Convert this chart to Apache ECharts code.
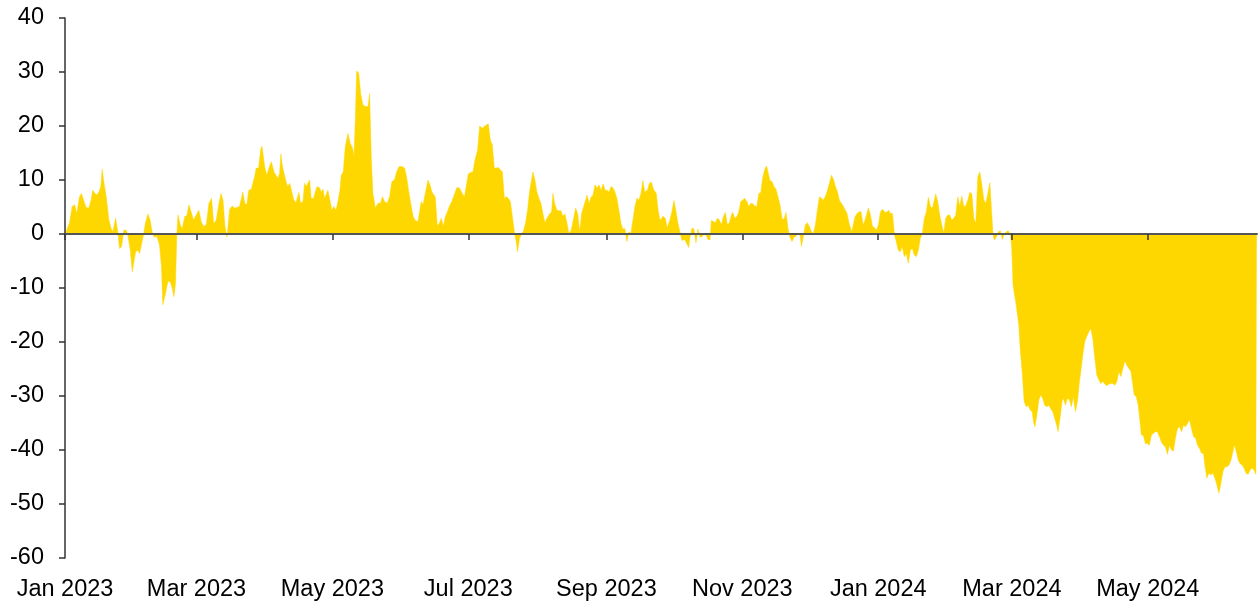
<!DOCTYPE html>
<html>
<head>
<meta charset="utf-8">
<script src="https://cdn.jsdelivr.net/npm/echarts@6/dist/echarts.min.js"></script>
<style>html,body{margin:0;padding:0;background:#fff}#c{width:1259px;height:602px}</style>
</head>
<body>
<div id="c"></div>
<script>
// x values: days since 2023-01-01
const baseDate = '2023-01-01';
const days = [
0, 2.0, 3.2, 4.3, 5.3, 6.5, 7.4, 8.3, 9.5, 10.7,
11.7, 12.5, 13.4, 14.3, 15.2, 16.1, 16.7, 17.3, 18.5, 19.7,
20.7, 21.5, 22.7, 23.6, 24.5, 25.4, 26.4, 27.5, 28.2, 29.3,
30.2, 30.8, 31.7, 32.7, 33.5, 34.3, 35.2, 36.1, 37.2, 38.2,
39.1, 40.0, 41.2, 42.4, 43.3, 43.9, 45.1, 46.2, 47.2, 48.1,
48.9, 49.6, 50.2, 50.7, 51.7, 52.6, 53.8, 54.7, 55.6, 56.6,
57.7, 58.9, 60.1, 61.1, 62.2, 63.4, 64.6, 65.8, 66.7, 67.9,
69.1, 70.0, 70.9, 71.8, 72.7, 73.9, 75.1, 76.1, 77.1, 78.3,
79.2, 79.8, 80.7, 81.6, 82.5, 83.6, 84.3,
85.1, 85.8, 86.9, 87.8, 88.4, 89.0, 89.6, 90.5, 91.1, 91.8,
92.6, 93.2, 93.8, 94.7, 95.6, 96.3, 96.9, 97.6, 98.5, 99.4,
100.0, 100.9, 101.8, 102.7, 103.6, 104.2, 105.0, 105.7, 106.8, 107.5,
108.3, 109.0, 109.8, 110.5, 111.6, 112.3, 113.2, 114.3, 115.0, 115.8,
116.5, 117.3, 118.0, 118.9, 119.8, 120.7, 121.6, 122.5, 123.4, 124.0,
124.9, 125.8, 127.0, 128.0, 129.1, 129.7, 130.3, 130.9, 131.8, 132.7,
133.7, 134.8, 136.0, 136.7, 137.5, 138.2, 139.3, 140.5, 141.6, 142.5,
143.4, 144.6, 145.7, 146.7, 147.9, 148.8, 150.0, 151.2, 152.4, 153.3,
154.2, 155.4, 156.3, 157.2, 158.4, 159.0, 159.9, 160.7, 161.7, 162.9,
163.8, 164.7, 165.6, 166.2, 167.1, 168.0, 168.9, 169.8, 170.7, 171.6,
172.5,
173.8, 174.9, 175.9, 177.1, 178.3, 179.3, 180.1, 181.0, 181.9, 183.1,
184.0, 185.2, 186.1, 187.3, 188.2, 189.1, 190.0, 190.9, 191.8, 192.7,
193.6, 194.5, 195.4, 196.3, 197.2, 198.1, 199.0, 199.9, 200.8, 201.8,
202.5, 203.1, 204.0, 204.9, 205.8, 206.7, 207.6, 208.5, 209.4, 210.0,
210.9, 211.8, 212.7, 213.6, 214.5, 215.4, 216.3, 217.5, 218.4, 219.0,
219.9, 220.8, 221.7, 222.6, 223.5, 224.4, 225.3, 226.2, 227.2, 228.3,
229.2, 230.1, 231.0, 231.9, 232.8, 233.7, 234.3, 235.2, 236.1, 237.0,
237.9, 238.8, 239.7, 240.6, 241.5, 242.4, 243.3, 244.2, 245.1, 246.0,
246.8, 247.7, 248.6, 249.5, 250.4, 251.3, 252.2, 253.1, 254.0, 254.9,
255.8, 256.7, 257.6, 258.5, 259.4,
260.2, 261.4, 262.3, 263.2, 264.1, 265.4, 266.2, 267.1, 268.4, 269.4,
270.3, 271.4, 272.4, 273.3, 274.4, 275.1, 276.0, 276.9, 278.1, 279.0,
279.9, 280.5, 281.4, 282.3, 283.2, 284.1, 285.0, 285.9, 286.8, 287.7,
288.6, 289.5, 290.1, 291.0, 291.9, 292.8, 293.7, 294.6, 295.5, 296.4,
297.3, 298.2, 299.1, 299.7, 300.6, 301.5, 302.4, 303.3, 304.2, 305.1,
306.0, 306.9, 307.8, 308.7, 309.6, 310.5, 311.4, 312.3, 313.1, 314.0,
314.9, 315.5, 316.4, 317.3, 318.2, 319.1, 320.0, 320.9, 321.8, 322.7,
323.6, 324.5, 325.4, 326.3, 327.2, 328.1, 329.0, 329.9, 330.5, 331.4,
332.3, 333.2, 334.1, 335.0, 335.9, 336.8, 337.7, 338.6, 339.5, 340.4,
341.3, 342.2, 343.1, 344.0, 344.9, 345.8, 346.7, 347.6,
348.9, 350.0, 351.0, 351.9, 353.1, 353.7, 354.6, 355.5, 356.4, 357.3,
358.2, 359.1, 359.7, 360.6, 361.5, 362.4, 363.3, 364.2, 365.1, 366.0,
366.9, 367.8, 368.7, 369.6, 370.5, 371.4, 372.3, 373.1, 374.0, 374.9,
375.8, 376.7, 377.6, 378.5, 379.4, 380.3, 381.2, 382.1, 383.0, 383.9,
384.8, 385.7, 386.6, 387.5, 388.4, 389.3, 390.2, 390.8, 391.7, 392.6,
393.5, 394.4, 395.3, 396.2, 397.1, 398.0, 398.9, 399.8, 400.7, 401.6,
402.5, 403.4, 404.3, 405.2, 406.1, 407.0, 407.9, 408.8, 409.7, 410.6,
411.5, 412.4, 413.3, 414.2, 415.1, 415.8, 416.5, 417.1, 418.0, 418.9,
419.8, 420.7, 421.6, 422.5, 423.4, 424.3, 424.9,
425.5, 426.3, 426.9, 427.5, 428.1, 428.7, 429.6, 430.5, 431.4, 432.3,
433.2, 434.1, 434.7, 435.3, 436.2, 437.1, 437.9, 438.8, 439.7, 440.6,
441.5, 442.4, 443.3, 444.2, 445.1, 445.7, 446.6, 447.5, 448.1, 449.0,
449.9, 450.8, 451.7, 452.6, 453.5, 454.4, 455.3, 455.9, 456.8, 457.7,
458.6, 459.5, 460.4, 461.3, 462.2, 463.1, 464.0, 464.9, 465.8, 466.7,
467.6, 468.5, 469.4, 470.3, 471.2, 472.1, 473.0, 473.9, 474.8, 475.7,
476.6, 477.5, 478.4, 479.3, 479.9, 480.8, 481.7, 482.5, 483.1, 484.0,
484.9, 485.8, 486.7, 487.6, 488.5, 489.4, 490.3, 491.2, 492.1, 493.0,
493.9, 494.8, 495.7, 496.6, 497.5, 498.4, 499.3, 500.2, 501.1, 502.0,
502.9, 503.8, 504.7, 505.6, 506.5, 507.4, 508.3, 509.2, 510.1, 511.0,
511.6, 512.5, 513.4, 514.3, 515.2, 516.1, 517.0, 517.9, 518.8, 519.7,
520.6, 521.5, 522.4, 523.3, 524.2, 524.8, 525.7, 526.6, 527.4, 528.3,
529.2, 530.1, 531.0, 531.9, 532.8, 533.7, 534.6, 534.9
];
const values = [
0, 2, 5.1, 5.4, 3.8, 6.9, 7.5, 6.3, 4.9, 4.8,
6.3, 8.1, 7.5, 7.2, 7.8, 8.8, 12.0, 10, 6.9, 2.6,
1, 0.4, 2.9, 0.7, -2.7, -2.3, 0.7, 0.7, -0.2, -3,
-7, -6.7, -3.3, -3, -3.6, -2, -0.2, 2, 3.7, 2.6,
0.4, -0.6, -0.4, -2, -6, -13.1, -11, -8.8, -8.8, -10,
-11.6, -9.1, 0, 3.5, 1.7, 1, 3.3, 3.4, 5.4, 4.1,
2.6, 3.5, 4.4, 2.3, 1.4, 1.7, 5.7, 6.6, 1.9, 2.6,
5.7, 7.5, 6.3, 1.4, -0.6, 4.6, 5.2, 4.8, 4.9, 5.1,
6.6, 7.8, 5.7, 5.4, 8.1, 8.3, 9.4,
10.6, 12.2, 12.2, 15.6, 16.3, 16.2, 12.5, 10.9, 10.6, 12.5,
13.4, 13.7, 11.5, 10.9, 10.3, 11.2, 14.8, 12.5, 10.9, 9.4,
8.8, 9.4, 7.8, 6.3, 5.8, 5.8, 7.7, 5.7, 6, 9.4,
8.8, 9.4, 10, 6.6, 6.6, 7.8, 8.8, 8.5, 7.8, 8.3,
6.6, 6.3, 8.1, 6.3, 4.4, 5.1, 4.4, 6, 8.1, 10.9,
11.5, 16.2, 18.6, 16.8, 15.9, 14.3, 21.1, 30.2, 29.8, 26,
23.9, 23.6, 23.6, 26, 13.7, 7.5, 4.8, 5.7, 5.7, 6.9,
6, 5.7, 6.9, 9.7, 10, 11.5, 12.5, 12.5, 12.2, 10.6,
8.1, 5.1, 3.2, 2.5, 2.3, 2.3, 6, 5.4, 7.5, 10,
9.1, 7.8, 7.2, 6.8, 1.5, 2, 2.9, 1.4, 3.2, 4.1,
5.1,
6.2, 7.5, 8.6, 8.5, 7.5, 6.9, 6.6, 11.1, 11.4, 11.5,
13.7, 15.6, 20, 19.6, 19.9, 20.2, 20.4, 17.4, 16.5, 12.2,
12.2, 12.3, 11.9, 11.5, 6.6, 6.9, 6.6, 6, 3.2, 0.1,
-1.4, -3.3, -0.8, 0, 0.6, 2, 4.4, 7.8, 10, 11.5,
10, 7.8, 6.6, 5.7, 3.8, 2.1, 2.9, 3.7, 4.1, 7.5,
5.4, 4.4, 4.3, 4.3, 3.3, 3.7, 2, 0.1, 0.7, 2.9,
4.8, 3.8, 0.4, 3.8, 5.1, 6.3, 7.2, 5.7, 6.8, 7.2,
9.1, 8.5, 9.1, 8, 9.3, 8.1, 8.1, 7.8, 8.8, 8.5,
7.8, 6.6, 4.4, 2, 0.9, 1, -1.4, 0.4, 0.1, 2.6,
5.1, 6.6, 6.3, 7.5, 9.9,
7.8, 8.1, 9.4, 9.6, 8.3, 7.5, 4.4, 2.5, 3.3, 2.9,
1.1, 2.5, 4.1, 6.2, 3.8, 2, 0.4, -1.2, -1, -1.7,
-2.5, -0.6, 1.1, 0.9, -1.6, 0.9, -0.6, -0.5, 0, -0.2,
-1, -1.1, 2.5, 2.3, 2.1, 2.9, 2.6, 1.7, 3.2, 4,
1.7, 2.1, 3.5, 4, 2.9, 3.2, 4.1, 6, 6.3, 6.6,
6, 5.1, 5.7, 5.6, 5.2, 5.1, 7.5, 7.7, 10.3, 11.9,
12.6, 12.8, 9.9, 9.7, 8.8, 8.3, 6.9, 5.4, 2.9, 2.7,
4, 1, -0.6, -1.4, -0.6, -0.4, 0.1, 0, -2.3, -0.4,
1.7, 2.1, 1.4, 0.4, 0.1, 1.7, 4.4, 6.9, 6.6, 6.3,
7, 8.1, 9.4, 10.9, 10.1, 8.8, 7.8, 6.2,
5.4, 4.6, 3.8, 2, 0.4, 0.7, 3.2, 3.8, 4.1, 4.1,
1.7, 2.6, 3.5, 4.8, 3.5, 1.4, 1.2, 0.7, 1.7, 4.1,
4.6, 4.1, 4, 4.4, 3.8, 3.8, -0.2, -1.4, -3, -3.3,
-2.3, -4.2, -3.6, -5.4, -3, -2.7, -3.9, -4.2, -3, -0.8,
0.1, 2.9, 4.1, 6.8, 5.1, 4.8, 6.3, 7.4, 6, 3.5,
1.7, 0.2, 2.9, 3.5, 3.5, 2.6, 2.9, 3.5, 6.9, 5.1,
7, 5.1, 5.2, 6.3, 7.7, 7.5, 2.9, 2, 10.6, 11.5,
9.1, 6.3, 5.7, 7.5, 9.5, 9.5, 0, -1.1, -0.6, 0.4,
0.6, -1, 0, 0.4, 0.6, -0.2, -2.3,
-9.4, -11.6, -13.1, -13, -16.9, -21.2, -25.5, -31, -32, -31.7,
-32.6, -32.9, -34.8, -35.7, -33.5, -30.7, -29.8, -30.4, -31.7, -32,
-31.7, -32.3, -32.9, -34.1, -35.4, -36.6, -34.1, -31, -30.4, -31.7,
-30.4, -30.7, -32, -30.1, -32.9, -31, -27.3, -25.5, -22.4, -19.9,
-19, -18.1, -17.5, -19.3, -23, -26.1, -27, -27.7, -27.3, -27.8,
-28.1, -27.8, -27.7, -27.7, -28, -27.3, -25.5, -26.4, -24.9, -23.5,
-24.3, -24.9, -25.4, -28, -29.8, -30.1, -31.7, -34.8, -37.2, -37.3,
-38.8, -38.8, -39.1, -37.2, -36.9, -36.6, -36.6, -37.5, -38.5, -39.1,
-39.4, -40.8, -39.1, -40, -40.2, -37.8, -36, -35.7, -36.6, -35.4,
-35.7, -35.1, -34.4, -36, -37.5, -37.8, -39.1, -39.7, -40.6, -40.6,
-42.8, -45.2, -44.3, -44.6, -44.3, -45.2, -46.5, -48, -46.2, -44,
-43.1, -43.1, -42.8, -41.9, -40.3, -39, -40.3, -41.9, -42.5, -42.8,
-43.4, -44.3, -44.5, -43.7, -43.4, -43.7, -44.6, -44.6
];
const tickDates = ['2023-01-01','2023-03-01','2023-05-01','2023-07-01','2023-09-01','2023-11-01','2024-01-01','2024-03-01','2024-05-01'];
const tickLabels = ['Jan 2023','Mar 2023','May 2023','Jul 2023','Sep 2023','Nov 2023','Jan 2024','Mar 2024','May 2024'];
const endDate = '2024-06-19';
const yTicks = {min: -60, max: 40, step: 10};

const dayOf = s => Math.round((Date.parse(s) - Date.parse(baseDate)) / 86400000);
const tickDays = tickDates.map(dayOf);
const xMax = dayOf(endDate);
const seriesData = days.map((d, i) => [d, values[i]]);

const font = '"Liberation Sans", Arial, sans-serif';
const chart = echarts.init(document.getElementById('c'), null, {renderer: 'canvas'});
chart.setOption({
  animation: false,
  backgroundColor: '#ffffff',
  grid: {left: 65, right: 2, top: 18, bottom: 44, containLabel: false},
  xAxis: [
    {
      type: 'value', min: 0, max: xMax, position: 'bottom', z: 5,
      axisLine: {show: true, onZero: true, lineStyle: {color: '#555555', width: 2}},
      axisTick: {show: true, customValues: tickDays, length: 6, inside: false, lineStyle: {color: '#333333', width: 1.5}},
      axisLabel: {show: false},
      splitLine: {show: false}
    },
    {
      type: 'value', min: 0, max: xMax, position: 'bottom',
      axisLine: {show: false, onZero: false},
      axisTick: {show: false},
      axisLabel: {
        show: true, customValues: tickDays, margin: 20,
        fontFamily: font, fontSize: 23.5, color: '#000000',
        formatter: v => { const i = tickDays.indexOf(Math.round(v)); return i >= 0 ? tickLabels[i] : ''; }
      },
      splitLine: {show: false}
    }
  ],
  yAxis: {
    type: 'value', min: yTicks.min, max: yTicks.max, interval: yTicks.step, z: 5,
    axisLine: {show: true, onZero: false, lineStyle: {color: '#333333', width: 1.5}},
    axisTick: {show: true, length: 6, lineStyle: {color: '#333333', width: 1.5}},
    axisLabel: {fontFamily: font, fontSize: 23.5, color: '#000000', margin: 21},
    splitLine: {show: false}
  },
  series: [{
    type: 'line',
    xAxisIndex: 0,
    data: seriesData,
    showSymbol: false,
    symbol: 'none',
    smooth: false,
    lineStyle: {width: 0.5, color: '#FFD700'},
    areaStyle: {color: '#FFD700', opacity: 1},
    itemStyle: {color: '#FFD700'},
    z: 2
  }]
});
</script>
</body>
</html>
